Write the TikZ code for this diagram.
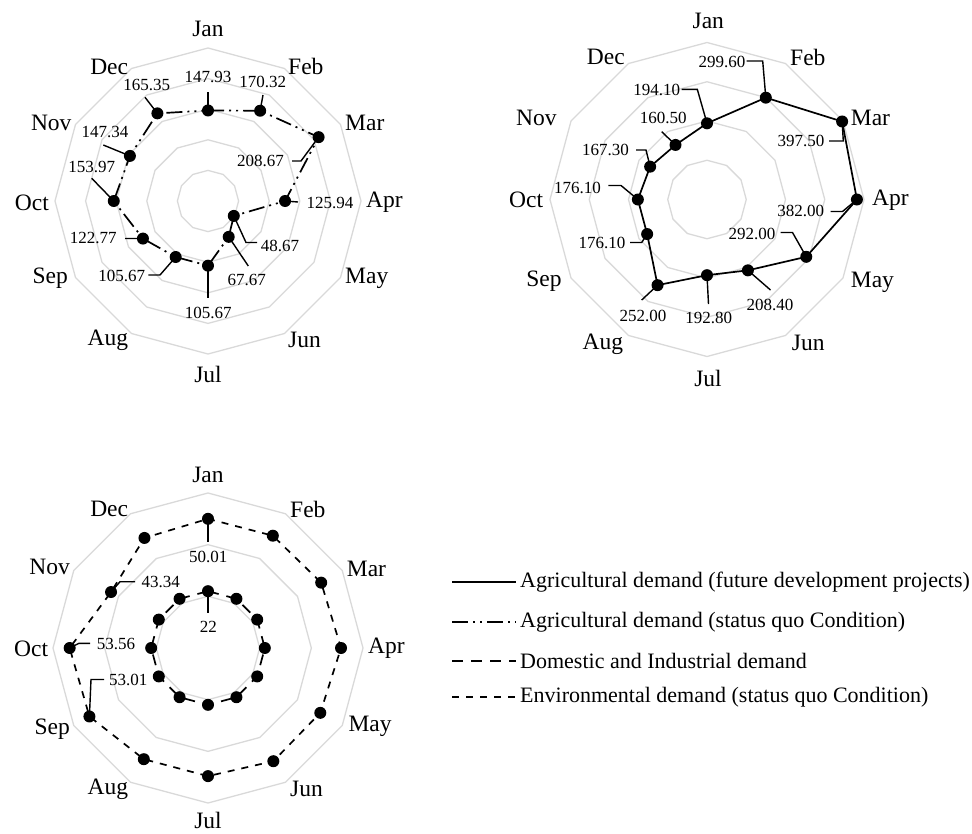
\documentclass[tikz,border=0pt]{standalone}
\usepackage{fontspec}
\setmainfont{Liberation Serif}
\definecolor{gridgray}{RGB}{217,217,217}
\tikzset{
  gridring/.style={draw=gridgray, line width=1.3pt},
  vallab/.style={inner sep=0pt, font=\fontsize{17}{17}\selectfont},
  monlab/.style={inner sep=0pt, font=\fontsize{23.5}{23.5}\selectfont},
  leglab/.style={inner sep=0pt, anchor=west, font=\fontsize{22}{22}\selectfont},
  leader/.style={draw=black, line width=1.4pt},
  markdot/.style={fill=black},
  agrifut/.style={draw=black, line width=1.7pt},
  agrisq/.style={draw=black, line width=1.7pt, dash pattern=on 16pt off 5pt on 2pt off 5pt on 2pt off 5pt},
  domind/.style={draw=black, line width=1.7pt, dash pattern=on 11pt off 8pt},
  envdem/.style={draw=black, line width=1.7pt, dash pattern=on 7pt off 7pt},
}
\begin{document}
\begin{tikzpicture}[x=1pt,y=-1pt]
\useasboundingbox (0,0) rectangle (972,833);

% ================= Chart 1 =================
\begin{scope}[shift={(208,201)}]
  \foreach \k in {1,...,5}
    \draw[gridring] (-90:{\k*30.6}) \foreach \i in {1,...,11}{ -- ({\i*30-90}:{\k*30.6})} -- cycle;
  \foreach \v [count=\i from 0] in {147.93,170.32,208.67,125.94,48.67,67.67,105.67,105.67,122.77,153.97,147.34,165.35}
    \coordinate (A\i) at ({\i*30-90}:{\v*0.612});
\end{scope}
\draw[agrisq] (A0) \foreach \i in {1,...,11}{ -- (A\i)} -- cycle;
% leaders chart 1
\coordinate (a0k) at (208,92);     \draw[leader] (a0k) -- (A0);
\coordinate (a1k) at (263,95);     \draw[leader] (a1k) -- (A1);
\coordinate (a2k) at (292,161);    \coordinate (a2j) at (301,161); \draw[leader] (a2k) -- (a2j) -- (A2);
\coordinate (a3k) at (298,202);    \draw[leader] (A3) -- (a3k);
\coordinate (a4j) at (246,242.5);  \coordinate (a4k) at (257,242.5); \draw[leader] (A4) -- (a4j) -- (a4k);
\coordinate (a5k) at (248.3,266);  \draw[leader] (A5) -- (a5k);
\coordinate (a6k) at (208,298.3);  \draw[leader] (A6) -- (a6k);
\coordinate (a7j) at (160,275);    \coordinate (a7k) at (148.3,275); \draw[leader] (A7) -- (a7j) -- (a7k);
\coordinate (a8k) at (125,238.5);  \draw[leader] (a8k) -- (A8);
\coordinate (a9k) at (91.7,178.3); \draw[leader] (a9k) -- (A9);
\coordinate (a10k) at (103.3,145); \draw[leader] (a10k) -- (A10);
\coordinate (a11k) at (145,97.3);  \draw[leader] (a11k) -- (A11);
\foreach \i in {0,...,11} \fill[markdot] (A\i) circle[radius=6pt];
% value labels chart 1
\node[vallab] (va0) at (208,77) {147.93};
\node[vallab] (va1) at (262.7,81.7) {170.32};
\node[vallab] (va2) at (260.5,160.7) {208.67};
\node[vallab] (va3) at (330,202.7) {125.94};
\node[vallab] (va4) at (280,246) {48.67};
\node[vallab] (va5) at (246.7,280) {67.67};
\node[vallab] (va6) at (208.3,313.3) {105.67};
\node[vallab] (va7) at (121.7,276) {105.67};
\node[vallab] (va8) at (93.3,238.3) {122.77};
\node[vallab] (va9) at (91.7,166.7) {153.97};
\node[vallab] (va10) at (105,131.7) {147.34};
\node[vallab] (va11) at (146.7,85) {165.35};
% month labels chart 1
\node[monlab] (ma0) at (208,28.5) {Jan};
\node[monlab, anchor=west] (ma1) at (288,66) {Feb};
\node[monlab, anchor=west] (ma2) at (345,123) {Mar};
\node[monlab, anchor=west] (ma3) at (366,202) {Apr};
\node[monlab, anchor=west] (ma4) at (345,278) {May};
\node[monlab, anchor=west] (ma5) at (288,340) {Jun};
\node[monlab] (ma6) at (208,374) {Jul};
\node[monlab, anchor=east] (ma7) at (128.3,340.7) {Aug};
\node[monlab, anchor=east] (ma8) at (68,278) {Sep};
\node[monlab, anchor=east] (ma9) at (49,203) {Oct};
\node[monlab, anchor=east] (ma10) at (71.7,122.5) {Nov};
\node[monlab, anchor=east] (ma11) at (128.3,66.7) {Dec};

% ================= Chart 2 =================
\begin{scope}[shift={(707,199.5)}]
  \foreach \k in {1,...,4}
    \draw[gridring] (-90:{\k*39.25}) \foreach \i in {1,...,11}{ -- ({\i*30-90}:{\k*39.25})} -- cycle;
  \foreach \v [count=\i from 0] in {194.10,299.60,397.50,382.00,292.00,208.40,192.80,252.00,176.10,176.10,167.30,160.50}
    \coordinate (B\i) at ({\i*30-90}:{\v*0.3925});
\end{scope}
\draw[agrifut] (B0) \foreach \i in {1,...,11}{ -- (B\i)} -- cycle;
% leaders chart 2
\coordinate (b0k) at (681.7,89.3);  \coordinate (b0j) at (697.3,89.3);  \draw[leader] (b0k) -- (b0j) -- (B0);
\coordinate (b1k) at (746.7,61);    \coordinate (b1j) at (762.7,61);    \draw[leader] (b1k) -- (b1j) -- (B1);
\coordinate (b2k) at (829,141);     \coordinate (b2j) at (843.3,141);   \draw[leader] (b2k) -- (b2j) -- (B2);
\coordinate (b3k) at (830.5,211.5); \coordinate (b3j) at (842.5,211.5); \draw[leader] (b3k) -- (b3j) -- (B3);
\coordinate (b4k) at (780.5,232.5); \coordinate (b4j) at (792.5,232.5); \draw[leader] (b4k) -- (b4j) -- (B4);
\coordinate (b5k) at (770.5,290);   \draw[leader] (B5) -- (b5k);
\coordinate (b6k) at (708.5,304);   \draw[leader] (B6) -- (b6k);
\coordinate (b7k) at (641.7,300);   \draw[leader] (b7k) -- (B7);
\coordinate (b8k) at (630,242.5);   \coordinate (b8j) at (641.7,242.5); \draw[leader] (b8k) -- (b8j) -- (B8);
\coordinate (b9k) at (608.3,185.5); \coordinate (b9j) at (621,185.5);   \draw[leader] (b9k) -- (b9j) -- (B9);
\coordinate (b10k) at (636,150);    \coordinate (b10j) at (646,150);    \draw[leader] (b10k) -- (b10j) -- (B10);
\coordinate (b11k) at (661.7,131.7);\draw[leader] (b11k) -- (B11);
\foreach \i in {0,...,11} \fill[markdot] (B\i) circle[radius=6pt];
% value labels chart 2
\node[vallab] (vb0) at (656.7,90.3) {194.10};
\node[vallab] (vb1) at (722,61.5) {299.60};
\node[vallab] (vb2) at (801,141.2) {397.50};
\node[vallab] (vb3) at (800.8,211.3) {382.00};
\node[vallab] (vb4) at (752,234.3) {292.00};
\node[vallab] (vb5) at (770,304.6) {208.40};
\node[vallab] (vb6) at (708.7,318.3) {192.80};
\node[vallab] (vb7) at (643,316.2) {252.00};
\node[vallab] (vb8) at (602,243) {176.10};
\node[vallab] (vb9) at (577.5,187.5) {176.10};
\node[vallab] (vb10) at (605.4,149.6) {167.30};
\node[vallab] (vb11) at (663.3,118.3) {160.50};
% month labels chart 2
\node[monlab] (mb0) at (708.3,20.8) {Jan};
\node[monlab, anchor=west] (mb1) at (790,57.5) {Feb};
\node[monlab, anchor=west] (mb2) at (850.7,117.5) {Mar};
\node[monlab, anchor=west] (mb3) at (872,200) {Apr};
\node[monlab, anchor=west] (mb4) at (850.7,282.5) {May};
\node[monlab, anchor=west] (mb5) at (791.7,342.5) {Jun};
\node[monlab] (mb6) at (708,378) {Jul};
\node[monlab, anchor=east] (mb7) at (623.3,344) {Aug};
\node[monlab, anchor=east] (mb8) at (561.7,281.7) {Sep};
\node[monlab, anchor=east] (mb9) at (543.3,200) {Oct};
\node[monlab, anchor=east] (mb10) at (556.7,118.3) {Nov};
\node[monlab, anchor=east] (mb11) at (625,56.7) {Dec};

% ================= Chart 3 =================
\begin{scope}[shift={(208,648)}]
  \foreach \k in {1,...,3}
    \draw[gridring] (-90:{\k*51.67}) \foreach \i in {1,...,11}{ -- ({\i*30-90}:{\k*51.67})} -- cycle;
  \foreach \v [count=\i from 0] in {50.01,50.2,50.6,51.5,50.2,50.6,49.6,49.7,53.01,53.56,43.34,49.2}
    \coordinate (C\i) at ({\i*30-90}:{\v*2.583});
  \foreach \i in {0,...,11}
    \coordinate (D\i) at ({\i*30-90}:{22*2.583});
\end{scope}
\draw[envdem] (C0) \foreach \i in {1,...,11}{ -- (C\i)} -- cycle;
\draw[domind] (D0) \foreach \i in {1,...,11}{ -- (D\i)} -- cycle;
% leaders chart 3
\coordinate (c0k) at (208,541.7);   \draw[leader] (C0) -- (c0k);
\coordinate (c10j) at (120,581.7);  \coordinate (c10k) at (135,581.7); \draw[leader] (C10) -- (c10j) -- (c10k);
\coordinate (c9j) at (79,643.3);    \coordinate (c9k) at (90,643.3);   \draw[leader] (C9) -- (c9j) -- (c9k);
\coordinate (c8k) at (104,679.5);   \coordinate (c8j) at (91,679.5);   \draw[leader] (c8k) -- (c8j) -- (C8);
\coordinate (d0k) at (208,613.3);   \draw[leader] (D0) -- (d0k);
\foreach \i in {0,...,11} \fill[markdot] (C\i) circle[radius=6pt];
\foreach \i in {0,...,11} \fill[markdot] (D\i) circle[radius=6pt];
% value labels chart 3
\node[vallab] (vc0) at (208.3,556.7) {50.01};
\node[vallab] (vc10) at (160.8,581.7) {43.34};
\node[vallab] (vc9) at (116,644) {53.56};
\node[vallab] (vc8) at (128.3,680.4) {53.01};
\node[vallab] (vd0) at (208.3,626.5) {22};
% month labels chart 3
\node[monlab] (mc0) at (208,475) {Jan};
\node[monlab, anchor=west] (mc1) at (290,509) {Feb};
\node[monlab, anchor=west] (mc2) at (346.7,569) {Mar};
\node[monlab, anchor=west] (mc3) at (368,648) {Apr};
\node[monlab, anchor=west] (mc4) at (348.3,726) {May};
\node[monlab, anchor=west] (mc5) at (290,788.5) {Jun};
\node[monlab] (mc6) at (208,820.5) {Jul};
\node[monlab, anchor=east] (mc7) at (128.3,789) {Aug};
\node[monlab, anchor=east] (mc8) at (70,729) {Sep};
\node[monlab, anchor=east] (mc9) at (48.3,649) {Oct};
\node[monlab, anchor=east] (mc10) at (70,566.7) {Nov};
\node[monlab, anchor=east] (mc11) at (128.3,509) {Dec};

% ================= Legend =================
\coordinate (g1a) at (452,582); \coordinate (g1b) at (516,582);
\coordinate (g2a) at (452,622); \coordinate (g2b) at (516,622);
\coordinate (g3a) at (452,661); \coordinate (g3b) at (516,661);
\coordinate (g4a) at (452,697); \coordinate (g4b) at (516,697);
\draw[agrifut] (g1a) -- (g1b);
\draw[agrisq]  (g2a) -- (g2b);
\draw[domind]  (g3a) -- (g3b);
\draw[envdem]  (g4a) -- (g4b);
\node[leglab] (t1) at (520,582) {Agricultural demand (future development projects)};
\node[leglab] (t2) at (520,622) {Agricultural demand (status quo Condition)};
\node[leglab] (t3) at (520,661) {Domestic and Industrial demand};
\node[leglab] (t4) at (520,697) {Environmental demand (status quo Condition)};
\end{tikzpicture}
\end{document}
